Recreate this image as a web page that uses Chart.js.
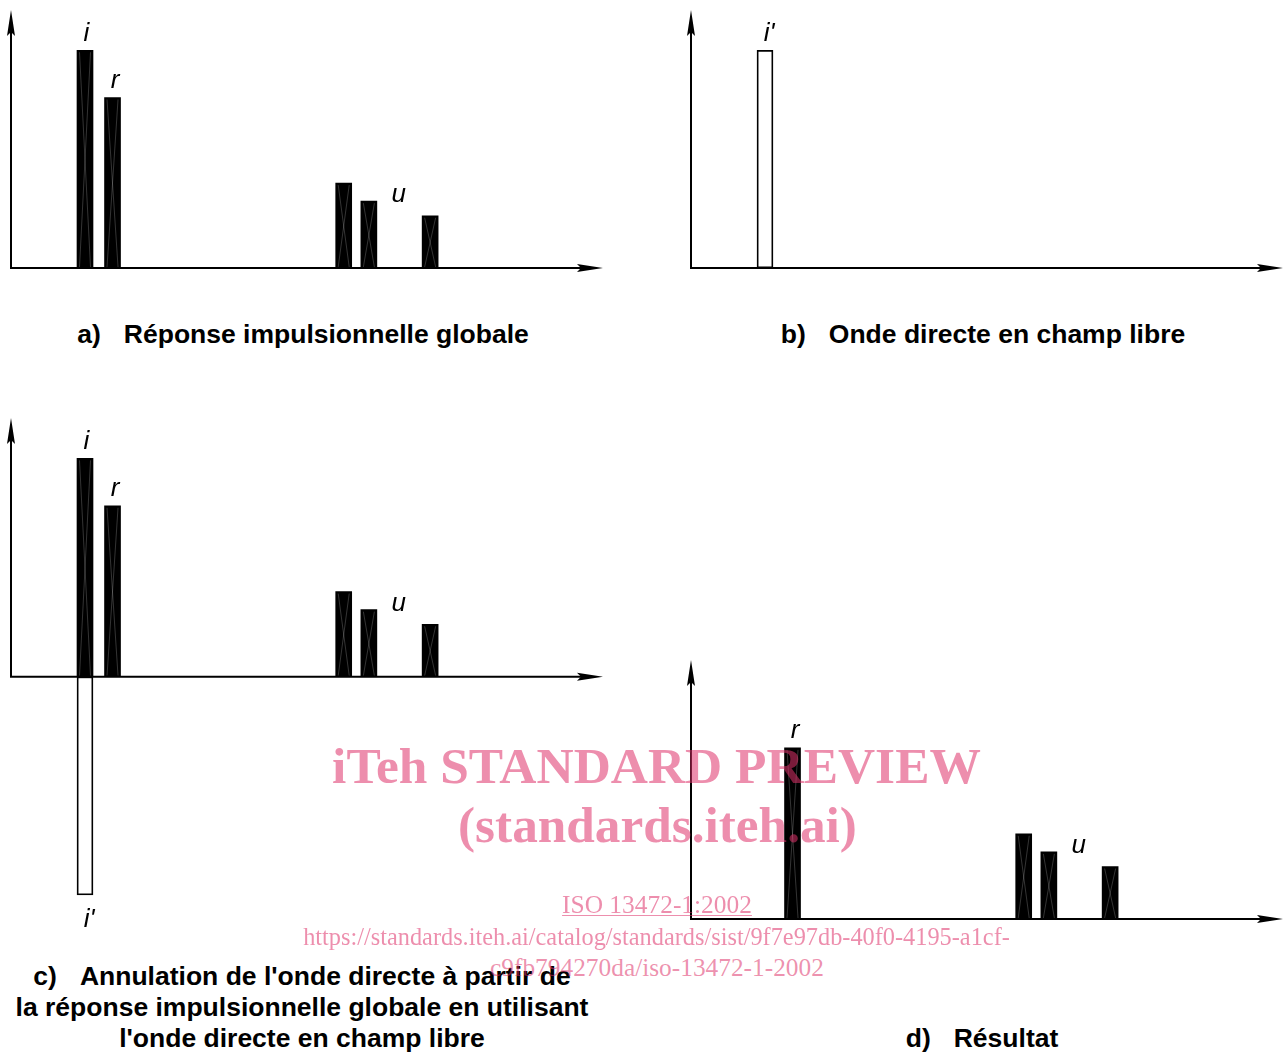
<!DOCTYPE html>
<html><head><meta charset="utf-8">
<script src="https://cdn.jsdelivr.net/npm/chart.js@4"></script>
<style>
html,body{margin:0;padding:0;background:#fff;}
#stage{position:relative;width:1283px;height:1055px;overflow:hidden;font-family:"Liberation Sans",Arial,sans-serif;}
canvas{position:absolute;}
.title{position:absolute;font-weight:bold;font-size:26.5px;color:#000;white-space:nowrap;text-align:center;line-height:31px;width:700px;}
.title .n{margin-right:23px;}
.wm{position:absolute;white-space:nowrap;font-family:"Liberation Serif","Times New Roman",serif;color:rgba(222,50,105,0.55);line-height:1;z-index:5;}
.wm.b{font-weight:bold;}
.wm.u{text-decoration:underline;text-decoration-thickness:1px;text-underline-offset:2px;}
</style></head>
<body><div id="stage">
<canvas id="ca" width="641" height="290" style="left:0;top:0"></canvas>
<canvas id="cb" width="642" height="290" style="left:641px;top:0"></canvas>
<canvas id="cc" width="641" height="540" style="left:0;top:400px"></canvas>
<canvas id="cd" width="642" height="300" style="left:641px;top:640px"></canvas>

<div class="title" style="left:-47px;top:319px"><span class="n">a)</span>Réponse impulsionnelle globale</div>
<div class="title" style="left:633px;top:319px"><span class="n">b)</span>Onde directe en champ libre</div>
<div class="title" style="left:-48px;top:961px"><span class="n">c)</span>Annulation de l'onde directe à partir de<br>la réponse impulsionnelle globale en utilisant<br>l'onde directe en champ libre</div>
<div class="title" style="left:632px;top:1023px"><span class="n">d)</span>Résultat</div>

<div class="wm b" data-cx="656.5" data-b="783" data-w="649" style="font-size:51px">iTeh STANDARD PREVIEW</div>
<div class="wm b" data-cx="657.5" data-b="842" data-w="399" style="font-size:51px">(standards.iteh.ai)</div>
<div class="wm u" data-cx="657" data-b="913" data-w="190" style="font-size:25px">ISO 13472-1:2002</div>
<div class="wm" data-cx="656.5" data-b="945" data-w="707" style="font-size:25px">https://standards.iteh.ai/catalog/standards/sist/9f7e97db-40f0-4195-a1cf-</div>
<div class="wm" data-cx="657" data-b="976" data-w="334" style="font-size:25px">c9fb794270da/iso-13472-1-2002</div>
</div>
<script>
// ---- data (time in arbitrary units 0..100, amplitude relative to direct wave = 100) ----
const waveNames   = ['i', 'r', 'u1', 'u2', 'u3'];
const waveTimes   = [12.5, 17.15, 56.2, 60.45, 70.8];
const waveAmps    = [100, 78.3, 39, 30.7, 24];
const directTimes = [12.5];
const directAmps  = [100];
const labelText   = ['i', 'r', 'u'];
const labelTimes  = [12.75, 17.57, 65.5];
const labelAmps   = [104.3, 82.7, 30.3];
const directLabel = "i'";
const directLabelTime = 13.2;
const directLabelAmpAbove = 104.3;
const directLabelAmpBelow = -114.7;

const pts = (xs, ys, sign) => xs.map((x, k) => ({x: x, y: sign * ys[k]}));

const decor = {
  id: 'decor',
  afterDatasetsDraw(chart, args, opts) {
    const ctx = chart.ctx, xs = chart.scales.x, ys = chart.scales.y;
    // cross pattern on filled bars
    chart.data.datasets.forEach((ds, di) => {
      if (!ds.crossed) return;
      chart.getDatasetMeta(di).data.forEach(el => {
        const p = el.getProps(['x', 'y', 'base', 'width'], true);
        const l = p.x - p.width / 2, r = p.x + p.width / 2;
        const t = Math.min(p.y, p.base), b = Math.max(p.y, p.base);
        ctx.save();
        ctx.strokeStyle = 'rgba(255,255,255,0.26)';
        ctx.lineWidth = 0.8;
        ctx.beginPath();
        ctx.moveTo(l + 2.5, t + 2); ctx.lineTo(r - 2.5, b - 1);
        ctx.moveTo(r - 2.5, t + 2); ctx.lineTo(l + 2.5, b - 1);
        ctx.stroke();
        ctx.restore();
      });
    });
    // axes with arrows
    const x0 = xs.getPixelForValue(xs.min), y0 = ys.getPixelForValue(0);
    const top = ys.getPixelForValue(ys.max), right = xs.getPixelForValue(xs.max);
    ctx.save();
    ctx.fillStyle = '#000'; ctx.strokeStyle = '#000'; ctx.lineWidth = 2;
    ctx.beginPath();
    ctx.moveTo(x0, y0); ctx.lineTo(x0, top + 20);
    ctx.moveTo(x0 - 1, y0); ctx.lineTo(right - 20, y0);
    ctx.stroke();
    ctx.beginPath();
    ctx.moveTo(x0, top); ctx.lineTo(x0 + 4, top + 26); ctx.lineTo(x0, top + 22); ctx.lineTo(x0 - 4, top + 26); ctx.closePath();
    ctx.fill();
    ctx.beginPath();
    ctx.moveTo(right, y0); ctx.lineTo(right - 26, y0 - 4); ctx.lineTo(right - 22, y0); ctx.lineTo(right - 26, y0 + 4); ctx.closePath();
    ctx.fill();
    // wave labels
    ctx.font = 'italic 26px "Liberation Sans", Arial, sans-serif';
    ctx.textAlign = 'center'; ctx.textBaseline = 'alphabetic';
    (opts.labels || []).forEach(L => {
      ctx.fillText(L.t, xs.getPixelForValue(L.x), ys.getPixelForValue(L.y));
    });
    ctx.restore();
  }
};

const barStyleFilled = {backgroundColor: '#000', borderWidth: 0, crossed: true};
const barStyleHollow = {backgroundColor: '#fff', borderColor: '#000', borderWidth: 1.8, borderSkipped: false};
const common = {barThickness: 16, maxBarThickness: 16, barPercentage: 1, categoryPercentage: 1, grouped: false, clip: false};

function make(id, datasets, labels, yMin, pad) {
  return new Chart(document.getElementById(id), {
    type: 'bar',
    data: {datasets: datasets.map(d => Object.assign({}, common, d))},
    options: {
      responsive: false, animation: false, events: [],
      layout: {padding: pad},
      scales: {
        x: {type: 'linear', min: 0, max: 100, offset: false, display: false},
        y: {type: 'linear', min: yMin, max: 118.5, display: false}
      },
      plugins: {legend: {display: false}, tooltip: {enabled: false}, decor: {labels: labels}}
    },
    plugins: [decor]
  });
}

const mainLabels = labelText.map((t, k) => ({t: t, x: labelTimes[k], y: labelAmps[k]}));

// a) global impulse response
make('ca', [Object.assign({data: pts(waveTimes, waveAmps, 1)}, barStyleFilled)],
  mainLabels, 0, {left: 11, top: 10, right: 38, bottom: 22});
// b) direct wave in free field
make('cb', [Object.assign({data: pts(directTimes, directAmps, 1)}, barStyleHollow)],
  [{t: directLabel, x: directLabelTime, y: directLabelAmpAbove}], 0, {left: 50, top: 10, right: 0, bottom: 22});
// c) subtraction of the direct wave
make('cc', [Object.assign({data: pts(waveTimes, waveAmps, 1)}, barStyleFilled),
            Object.assign({data: pts(directTimes, directAmps, -1)}, barStyleHollow)],
  mainLabels.concat([{t: directLabel, x: directLabelTime, y: directLabelAmpBelow}]), -100,
  {left: 11, top: 18, right: 38, bottom: 45});
// d) result
make('cd', [Object.assign({data: pts(waveTimes.slice(1), waveAmps.slice(1), 1)}, barStyleFilled)],
  mainLabels.slice(1), 0, {left: 50, top: 20, right: 0, bottom: 21});

// watermark fitting
document.querySelectorAll('.wm').forEach(el => {
  const target = +el.dataset.w;
  let fs = parseFloat(el.style.fontSize);
  const w = el.getBoundingClientRect().width;
  fs = fs * target / w;
  el.style.fontSize = fs + 'px';
  const w2 = el.getBoundingClientRect().width;
  el.style.left = (+el.dataset.cx - w2 / 2) + 'px';
  el.style.top = (+el.dataset.b - 0.8375 * fs) + 'px';
});
</script>
</body></html>
